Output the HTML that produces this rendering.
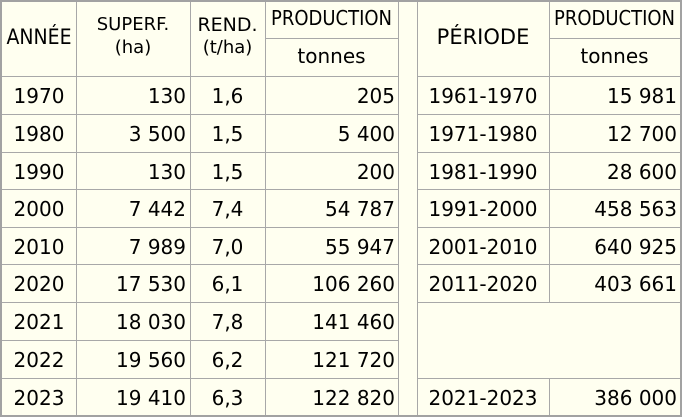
<!DOCTYPE html>
<html><head><meta charset="utf-8"><style>
*{margin:0;padding:0;box-sizing:border-box}
body{width:682px;height:417px;background:#fffff0;position:relative;overflow:hidden;font-family:"DejaVu Sans","Liberation Sans",sans-serif;color:#000}
.f{position:absolute;left:0;top:0;width:682px;height:417px;border:2px solid #a2a2a2}
.h{position:absolute;height:1px;background:#a8a8a8}
.v{position:absolute;width:1px;background:#a8a8a8}
.t{position:absolute;font-size:20px;line-height:20px;white-space:nowrap}
.k{font-family:"DejaVu Sans Condensed","DejaVu Sans",sans-serif}
.c{text-align:center}.r{text-align:right}
</style></head><body>
<div class="f"></div>
<div id="g"></div>
<script>
var g=document.getElementById('g'),H='';
var ys=[76,114,152,189,227,264,302,340,378,415];
function ln(c,x,y,w,h){H+='<div class="'+c+'" style="left:'+x+'px;top:'+y+'px;'+(c=='h'?'width:'+w+'px':'height:'+h+'px')+'"></div>';}
[76,190,265].forEach(function(x){ln('v',x,2,0,413)});
ln('v',398,2,0,413);ln('v',417,2,0,413);
ln('v',549,2,0,300);ln('v',549,378,0,37);
ys.slice(0,8).forEach(function(y){ln('h',2,y,396,0)});
ln('h',2,378,396,0);
ln('h',265,38,133,0);ln('h',549,38,131,0);
[76,114,152,189,227,264,302,378].forEach(function(y){ln('h',417,y,263,0)});
function tx(s,x,y,w,al,fs,k){H+='<div class="t '+al+(k?' k':'')+'" style="left:'+x+'px;top:'+y+'px;width:'+w+'px;font-size:'+(fs||20)+'px;line-height:'+(fs||20)+'px">'+s+'</div>';}
var L=[['1970','130','1,6','205'],['1980','3 500','1,5','5 400'],['1990','130','1,5','200'],['2000','7 442','7,4','54 787'],['2010','7 989','7,0','55 947'],['2020','17 530','6,1','106 260'],['2021','18 030','7,8','141 460'],['2022','19 560','6,2','121 720'],['2023','19 410','6,3','122 820']];
var R={0:['1961-1970','15 981'],1:['1971-1980','12 700'],2:['1981-1990','28 600'],3:['1991-2000','458 563'],4:['2001-2010','640 925'],5:['2011-2020','403 661'],8:['2021-2023','386 000']};
for(var i=0;i<9;i++){var y=(ys[i]+(ys[i+1]||ys[i]+38))/2-10+1;
tx(L[i][0],2,y,74,'c');tx(L[i][1],76,y,110,'r');tx(L[i][2],190,y,75,'c');tx(L[i][3],265,y,130,'r');
if(R[i]){tx(R[i][0],417,y,132,'c');tx(R[i][1],549,y,128,'r');}}
tx('ANNÉE',2,27,74,'c',21,1);
tx('SUPERF.',76,16,114,'c',18);tx('(ha)',76,39,114,'c',18);
tx('REND.',190,16,75,'c',19);tx('(t/ha)',190,39,75,'c',18);
tx('PRODUCTION',265,8,133,'c',20,1);tx('tonnes',265,46,133,'c',20);
tx('PÉRIODE',417,27,132,'c',21);
tx('PRODUCTION',549,8,131,'c',20,1);tx('tonnes',549,46,131,'c',20);
g.innerHTML=H;
</script>
</body></html>
